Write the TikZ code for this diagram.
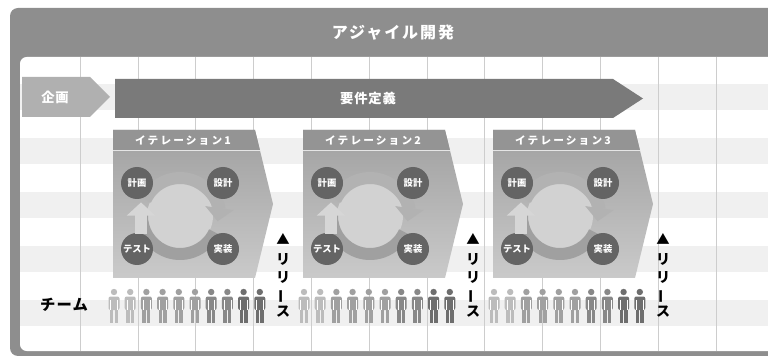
\documentclass[tikz,border=0pt]{standalone}
\usepackage{fontspec}
\setmainfont{Noto Sans CJK JP}
\usetikzlibrary{calc}
\usetikzlibrary{positioning}
\usetikzlibrary{arrows.meta}
\definecolor{frameGray}{RGB}{142,142,142}
\definecolor{stripeGray}{RGB}{240,240,240}
\definecolor{gridGray}{RGB}{205,205,205}
\definecolor{planGray}{RGB}{176,176,176}
\definecolor{reqGray}{RGB}{122,122,122}
\definecolor{blockTop}{RGB}{160,160,160}
\definecolor{blockBottom}{RGB}{202,202,202}
\definecolor{stripGray}{RGB}{148,148,148}
\definecolor{stageGray}{RGB}{100,100,100}
\definecolor{hubGray}{RGB}{210,210,210}
\definecolor{ringTop}{RGB}{178,178,178}
\definecolor{ringBottom}{RGB}{160,160,160}
\definecolor{ringUp}{RGB}{214,214,214}
\definecolor{crowdA}{RGB}{188,188,188}
\definecolor{crowdB}{RGB}{160,160,160}
\definecolor{crowdC}{RGB}{136,136,136}
\definecolor{crowdD}{RGB}{110,110,110}
\tikzset{every picture/.style={semithick, >=Stealth}}
\tikzset{
  heading/.style={text=white, font=\bfseries\fontsize{12}{14}\selectfont\addfontfeatures{LetterSpace=12}},
  phase/.style={text=white, font=\bfseries\fontsize{10}{12}\selectfont\addfontfeatures{LetterSpace=6}},
  iterlabel/.style={text=white, font=\bfseries\fontsize{8}{10}\selectfont\addfontfeatures{LetterSpace=20}},
  stage/.style={circle, minimum size=24pt, inner sep=0pt, fill=stageGray, text=white,
    font=\bfseries\fontsize{7}{8}\selectfont},
  release/.style={align=center, inner sep=0pt, font=\bfseries\fontsize{10.5}{13}\selectfont},
  ring/.style={line width=9pt},
  ringtip/.style={ring, -{Triangle[width=21pt,length=10pt]}},
  person/.pic={
    \fill (0,0) circle (3.2);
    \fill[rounded corners=1.5pt] (-5.5,4.5) rectangle (5.5,18);
    \fill (-4,17) rectangle (-0.6,31);
    \fill (0.6,17) rectangle (4,31);
    \draw[white, line width=0.35pt] (-3.4,8) -- (-3.4,18) (3.4,8) -- (3.4,18);
  }
}

\begin{document}
\begin{tikzpicture}[x=0.75pt, y=-0.75pt]
    \useasboundingbox (0,0) rectangle (768,356);
    % frame, header and the white board
    \fill[frameGray, rounded corners=6pt] (10,8) rectangle (790,356);
    \fill[white, rounded corners=5pt] (20,57) rectangle (790,351);
    \node[heading] (title) at (393,33) {アジャイル開発};

    % rows and columns of the board
    \foreach \y in {84,138,192,246,300}
        \fill[stripeGray] (20,\y) rectangle (790,\y+26);
    \foreach \k in {0,...,11}
        \draw[gridGray, thin] (80+57.8*\k,57) -- (80+57.8*\k,351);

    % planning and requirements
    \fill[planGray] (22,77) -- (90,77) -- (110,97) -- (90,117) -- (22,117) -- cycle;
    \node[phase] (planning) at (55,97) {企画};
    \fill[reqGray] (115,79) -- (613,79) -- (643,98.5) -- (613,118) -- (115,118) -- cycle;
    \node[phase] (requirements) at (368,98.5) {要件定義};

    % the three iterations
    \foreach \i in {1,2,3}{
        \pgfmathsetmacro{\bx}{113+190*(\i-1)}
        \shade[top color=blockTop, bottom color=blockBottom]
            (\bx,130) -- ++(142,0) -- ++(18,74) -- ++(-18,74) -- ++(-142,0) -- cycle;
        \fill[stripGray] (\bx,130) -- ++(142,0) -- ++(4.9,20) -- ++(-146.9,0) -- cycle;
        \draw[white!80!gray, thin] (\bx,150.5) -- ++(146.9,0);
        \node[iterlabel] (iter\i) at (\bx+70,141) {イテレーション\i};

        % plan - design - build - test cycle
        \coordinate (hub\i) at (\bx+67,216);
        \fill[hubGray] (hub\i) circle (33);
        \draw[ring, ringBottom] ($(hub\i)+(25:38)$) arc[start angle=25, end angle=182, radius=38];
        \draw[ringtip, ringTop] ($(hub\i)+(-155:38)$) arc[start angle=-155, end angle=8, radius=38];

        \node[stage] (plan\i) at (\bx+24,183) {計画};
        \node[stage] (design\i) at (\bx+110,183) {設計};
        \node[stage] (test\i) at (\bx+24,249) {テスト};
        \node[stage] (build\i) at (\bx+110,249) {実装};
        \draw[ringtip, ringUp] ($(test\i.north)+(4,1)$) -- ($(plan\i.south)+(4,3)$);

        % release mark
        \node[font=\fontsize{10}{11}\selectfont] (mark\i) at (\bx+170,239) {▲};
        \node[release, below=3pt of mark\i] (release\i) {リ\\リ\\\rotatebox[origin=c]{90}{ー}\\ス};

        % team members
        \foreach \j/\c in {0/crowdA,1/crowdA,2/crowdB,3/crowdB,4/crowdB,5/crowdB,6/crowdC,7/crowdC,8/crowdD,9/crowdD}
            \pic[fill=\c] at (\bx+1+16.2*\j,292) {person};
    }
    \node[font=\bfseries\fontsize{11.5}{13}\selectfont\addfontfeatures{LetterSpace=8}] (team) at (64,305) {チーム};
\end{tikzpicture}
\end{document}
